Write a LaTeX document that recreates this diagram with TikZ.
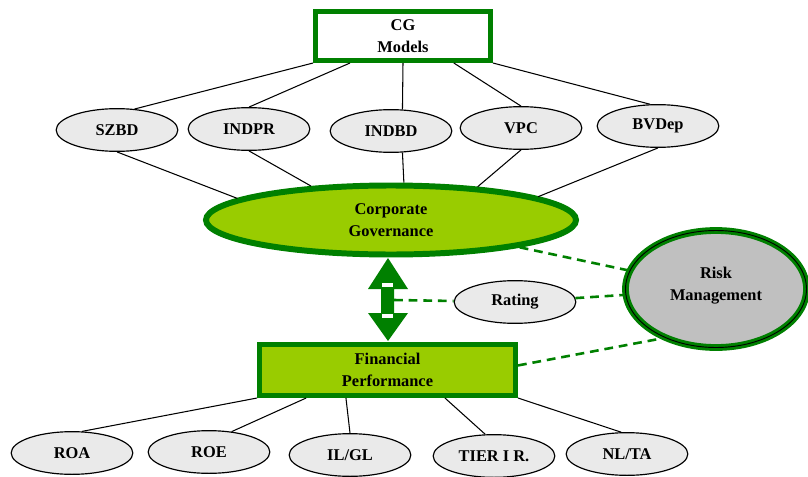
\documentclass[tikz,border=0pt]{standalone}
\usepackage{fontspec}
\setmainfont{Liberation Serif}
\usetikzlibrary{shapes.geometric}
\definecolor{dkgreen}{RGB}{0,128,0}
\definecolor{lime}{RGB}{153,204,0}
\definecolor{ovalgray}{RGB}{234,234,234}
\definecolor{riskgray}{RGB}{192,192,192}

\begin{document}
\begin{tikzpicture}[x=0.03cm,y=-0.03cm,
   every node/.style={font=\fontsize{14}{19}\selectfont\bfseries,align=center,inner sep=0pt},
   oval/.style={ellipse,draw,line width=1pt,fill=ovalgray,minimum width=3.65cm,minimum height=1.28cm},
   greenbox/.style={rectangle,draw=dkgreen,line width=4.3pt},
   link/.style={line width=0.9pt},
   dlink/.style={draw=dkgreen,line width=2.2pt,dash pattern=on 7.5pt off 5pt}]
   \useasboundingbox (0,0) rectangle (808,477);

   % models
   \node[greenbox,fill=white,minimum width=5.25cm,minimum height=1.47cm] (cg) at (403,36) {CG\\Models};
   \node[oval] (szbd) at (117,130) {SZBD};
   \node[oval] (indpr) at (249,129) {INDPR};
   \node[oval] (indbd) at (391,131) {INDBD};
   \node[oval] (vpc) at (521,128) {VPC};
   \node[oval] (bvdep) at (658,126) {BVDep};
   \node[ellipse,draw=dkgreen,line width=5.1pt,fill=lime,minimum width=11.1cm,minimum height=2.07cm] (gov) at (391,220) {Corporate\\Governance};

   % side
   \node[oval] (rating) at (515,302) {Rating};
   \node[ellipse,draw=dkgreen,line width=2.5pt,double=black,double distance=0.8pt,fill=riskgray,minimum width=5.43cm,minimum height=3.51cm] (risk) at (716,289) {Risk\\Management\\[-10pt]\mbox{}};

   % performance
   \node[greenbox,fill=lime,minimum width=7.68cm,minimum height=1.53cm] (fp) at (387.5,370) {Financial\\Performance};
   \node[oval] (roa) at (72,453) {ROA};
   \node[oval] (roe) at (209,452) {ROE};
   \node[oval] (ilgl) at (350,455) {IL/GL};
   \node[oval] (tier) at (494,456) {TIER I R.};
   \node[oval] (nlta) at (627,454) {NL/TA};

   % double arrow
   \fill[dkgreen] (388,258) -- (408,289) -- (394,289) -- (394,313) -- (408,313) -- (388,341)
      -- (368,313) -- (381,313) -- (381,289) -- (368,289) -- cycle;
   \fill[white] (382,283) rectangle (393,287);
   \fill[white] (382,314) rectangle (393,318);
   \coordinate (shaft) at (394,300);

   \draw[link] (cg.south west) -- (szbd.50);
   \draw[link] (cg.207) -- (indpr.north);
   \draw[link] (cg.south) -- (indbd.62);
   \draw[link] (cg.-28) -- (vpc.north);
   \draw[link] (cg.south east) -- (bvdep.110);

   \draw[link] (szbd.south) -- (gov.172);
   \draw[link] (indpr.south) -- (gov.157);
   \draw[link] (indbd.-62) -- (gov.71);
   \draw[link] (vpc.south) -- (gov.21.5);
   \draw[link] (bvdep.south) -- (gov.9);

   \draw[link] (fp.south west) -- (roa.65);
   \draw[link] (fp.199) -- (roe.42);
   \draw[link] (fp.214) -- (ilgl.north);
   \draw[link] (fp.-26) -- (tier.112);
   \draw[link] (fp.south east) -- (nlta.105);

   \draw[dlink] (gov) -- (risk);
   \draw[dlink] (shaft) -- (rating);
   \draw[dlink] (rating) -- (risk);
   \draw[dlink] (fp.2) -- (risk.223);
\end{tikzpicture}
\end{document}
